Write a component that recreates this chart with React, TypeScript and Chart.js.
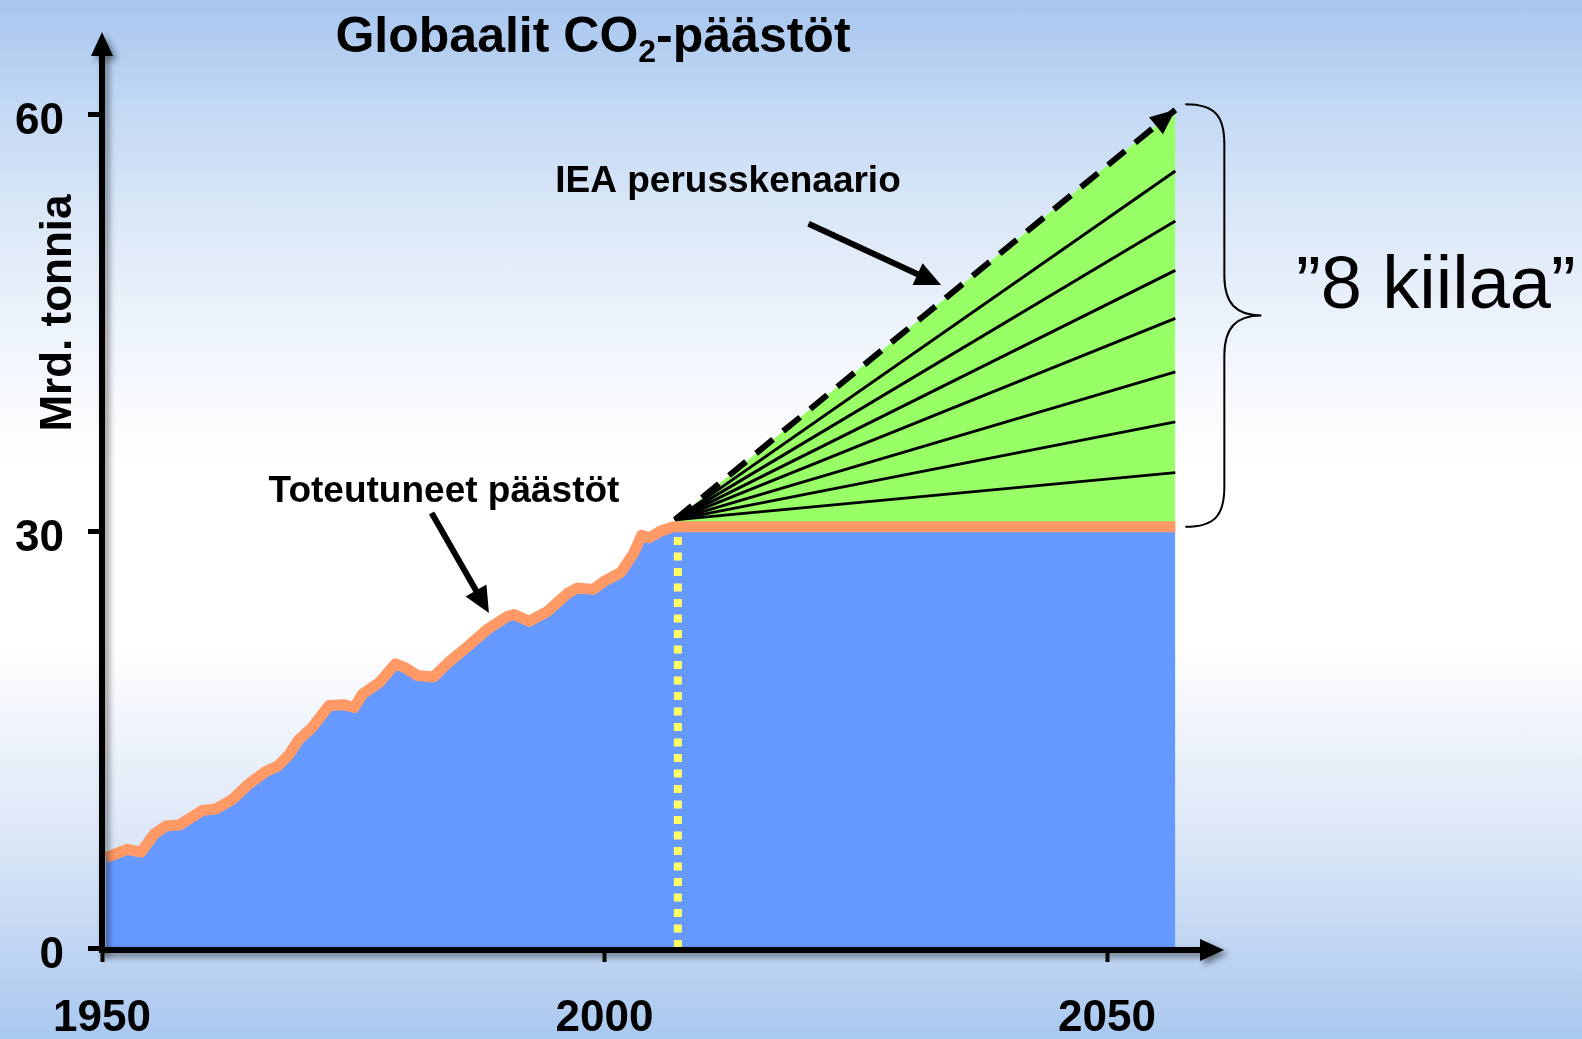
import React, { useEffect, useRef } from "react";
import { Chart, registerables } from "chart.js";

Chart.register(...registerables);

const FONT = "'Liberation Sans', Arial, Helvetica, sans-serif";

// ---- data ----
const historyYears = [
  1950.4, 1952.5, 1953.9, 1955.2, 1956.4, 1957.7, 1960.0, 1961.3, 1963.0, 1964.6,
  1966.3, 1967.5, 1968.6, 1969.6, 1970.9, 1972.6, 1974.1, 1975.1, 1975.9, 1977.6,
  1979.2, 1980.2, 1981.4, 1983.0, 1984.4, 1986.4, 1988.3, 1990.3, 1991.0, 1992.5,
  1994.3, 1996.3, 1997.3, 1998.9, 2000.0, 2001.6, 2002.9, 2003.7, 2004.4, 2005.6,
  2006.9,
];
const historyValues = [
  6.5, 7.1, 6.9, 8.2, 8.8, 8.85, 9.9, 10.0, 10.7, 11.8,
  12.7, 13.1, 13.9, 15.0, 15.85, 17.45, 17.5, 17.3, 18.25, 19.1,
  20.45, 20.15, 19.6, 19.5, 20.5, 21.7, 22.9, 23.85, 24.0, 23.5,
  24.2, 25.5, 25.9, 25.8, 26.4, 27.0, 28.4, 29.7, 29.5, 30.0,
  30.3,
];
const plateauValue = 30.3;
const fanStartYear = 2007.0;
const fanStartValue = 30.8;
const fanEndYear = 2056.8;
const ieaEndValue = 60.3;
const wedgeEndValues = [55.9, 52.3, 48.75, 45.3, 41.45, 37.85, 34.2];
const markerYear = 2007.3;
const markerTop = 29.6;
const xTickValues = [1950, 2000, 2050];
const yTickValues = [0, 30, 60];

// annotation arrow anchors (data coordinates)
const toteArrowTail = { x: 1982.8, y: 31.3 };
const toteArrowTip = { x: 1988.5, y: 24.1 };
const ieaArrowTail = { x: 2020.3, y: 52.1 };
const ieaArrowTip = { x: 2033.5, y: 47.7 };

function drawArrow(ctx: CanvasRenderingContext2D, x1: number, y1: number, x2: number, y2: number, w: number, headLen: number, headW: number) {
  const ang = Math.atan2(y2 - y1, x2 - x1);
  const bx = x2 - headLen * Math.cos(ang);
  const by = y2 - headLen * Math.sin(ang);
  ctx.lineWidth = w;
  ctx.lineCap = "butt";
  ctx.beginPath();
  ctx.moveTo(x1, y1);
  ctx.lineTo(bx + Math.cos(ang) * 2, by + Math.sin(ang) * 2);
  ctx.stroke();
  ctx.beginPath();
  ctx.moveTo(x2, y2);
  ctx.lineTo(bx + (headW / 2) * Math.sin(ang), by - (headW / 2) * Math.cos(ang));
  ctx.lineTo(bx - (headW / 2) * Math.sin(ang), by + (headW / 2) * Math.cos(ang));
  ctx.closePath();
  ctx.fill();
}

const overlayPlugin = {
  id: "overlay",
  afterDatasetsDraw(chart: any) {
    const { ctx, chartArea } = chart;
    const xs = chart.scales.x;
    const ys = chart.scales.y;
    const px = (v: number) => xs.getPixelForValue(v);
    const py = (v: number) => ys.getPixelForValue(v);
    ctx.save();
    ctx.fillStyle = "#000";
    ctx.strokeStyle = "#000";

    // IEA dashed arrowhead
    {
      const x1 = px(fanStartYear), y1 = py(fanStartValue);
      const x2 = px(fanEndYear), y2 = py(ieaEndValue);
      const ang = Math.atan2(y2 - y1, x2 - x1);
      const hl = 25, hw = 22;
      const bx = x2 - hl * Math.cos(ang), by = y2 - hl * Math.sin(ang);
      ctx.beginPath();
      ctx.moveTo(x2, y2);
      ctx.lineTo(bx + (hw / 2) * Math.sin(ang), by - (hw / 2) * Math.cos(ang));
      ctx.lineTo(bx - (hw / 2) * Math.sin(ang), by + (hw / 2) * Math.cos(ang));
      ctx.closePath();
      ctx.fill();
    }

    // axes with soft shadow
    ctx.save();
    ctx.shadowColor = "rgba(0,0,0,0.45)";
    ctx.shadowBlur = 6;
    ctx.shadowOffsetX = 4;
    ctx.shadowOffsetY = 4;
    const ax = chartArea.left;
    const ay = chartArea.bottom + 2;
    ctx.lineWidth = 6;
    ctx.lineCap = "butt";
    ctx.beginPath();
    ctx.moveTo(ax, ay + 3);
    ctx.lineTo(ax, 52);
    ctx.stroke();
    ctx.beginPath();
    ctx.moveTo(ax, 32);
    ctx.lineTo(ax - 11, 56);
    ctx.lineTo(ax + 11, 56);
    ctx.closePath();
    ctx.fill();
    ctx.beginPath();
    ctx.moveTo(ax - 3, ay);
    ctx.lineTo(1204, ay);
    ctx.stroke();
    ctx.beginPath();
    ctx.moveTo(1224, ay);
    ctx.lineTo(1200, ay - 11);
    ctx.lineTo(1200, ay + 11);
    ctx.closePath();
    ctx.fill();
    ctx.restore();

    // annotation arrows
    drawArrow(ctx, px(toteArrowTail.x), py(toteArrowTail.y), px(toteArrowTip.x), py(toteArrowTip.y), 6, 26, 24);
    drawArrow(ctx, px(ieaArrowTail.x), py(ieaArrowTail.y), px(ieaArrowTip.x), py(ieaArrowTip.y), 6, 26, 24);

    // brace
    {
      const L = px(fanEndYear) + 10;
      const M = L + 39;
      const T = L + 76;
      const Yt = py(60.7);
      const Yb = py(30.3);
      const Ym = (Yt + Yb) / 2;
      ctx.lineWidth = 2;
      ctx.beginPath();
      ctx.moveTo(L, Yt);
      ctx.bezierCurveTo(L + 30, Yt, M, Yt + 12, M, Yt + 40);
      ctx.lineTo(M, Ym - 40);
      ctx.bezierCurveTo(M, Ym - 12, M + 12, Ym, T, Ym);
      ctx.moveTo(T, Ym);
      ctx.bezierCurveTo(M + 12, Ym, M, Ym + 12, M, Ym + 40);
      ctx.lineTo(M, Yb - 40);
      ctx.bezierCurveTo(M, Yb - 12, L + 30, Yb, L, Yb);
      ctx.stroke();
    }

    // texts
    ctx.textBaseline = "alphabetic";
    // title
    {
      const a = "Globaalit CO", b = "2", c = "-päästöt";
      const big = `bold 50px ${FONT}`;
      const small = `bold 32px ${FONT}`;
      ctx.font = big;
      const wa = ctx.measureText(a).width;
      const wc = ctx.measureText(c).width;
      ctx.font = small;
      const wb = ctx.measureText(b).width;
      let x0 = 593 - (wa + wb + wc) / 2;
      ctx.textAlign = "left";
      ctx.font = big;
      ctx.fillText(a, x0, 52);
      ctx.font = small;
      ctx.fillText(b, x0 + wa, 62);
      ctx.font = big;
      ctx.fillText(c, x0 + wa + wb, 52);
    }
    ctx.font = `bold 37px ${FONT}`;
    ctx.textAlign = "center";
    ctx.fillText("Toteutuneet päästöt", 444, 502);
    ctx.fillText("IEA perusskenaario", 728, 192);

    ctx.font = `74px ${FONT}`;
    ctx.textAlign = "left";
    ctx.fillText("\u201D8 kiilaa\u201D", 1296, 308);

    ctx.save();
    ctx.translate(59, 313);
    ctx.rotate(-Math.PI / 2);
    ctx.font = `bold 44px ${FONT}`;
    ctx.textAlign = "center";
    ctx.textBaseline = "middle";
    ctx.fillText("Mrd. tonnia", 0, 0);
    ctx.restore();

    ctx.restore();
  },
};

export default function App() {
  const ref = useRef<HTMLCanvasElement | null>(null);

  useEffect(() => {
    if (!ref.current) return;
    const actualPoints = historyYears.map((x, i) => ({ x, y: historyValues[i] }));
    actualPoints.push({ x: fanEndYear, y: plateauValue });
    const fanStart = { x: fanStartYear, y: fanStartValue };

    const datasets: any[] = [
      {
        label: "Toteutuneet päästöt",
        data: actualPoints,
        borderColor: "#FF9966",
        borderWidth: 11,
        borderJoinStyle: "round",
        fill: false,
        order: 1,
      },
      {
        label: "2007",
        data: [{ x: markerYear, y: 0 }, { x: markerYear, y: markerTop }],
        borderColor: "#FFFF66",
        borderWidth: 8,
        borderDash: [8, 7.5],
        fill: false,
        order: 2,
      },
      ...wedgeEndValues.map((v, i) => ({
        label: "kiila " + (i + 1),
        data: [fanStart, { x: fanEndYear, y: v }],
        borderColor: "#000000",
        borderWidth: 3,
        fill: false,
        order: 3,
      })),
      {
        label: "IEA perusskenaario",
        data: [fanStart, { x: fanEndYear, y: ieaEndValue }],
        borderColor: "#000000",
        borderWidth: 6,
        borderDash: [22, 13],
        fill: { value: plateauValue },
        backgroundColor: "#99FF66",
        order: 4,
      },
      {
        label: "area",
        data: actualPoints,
        borderColor: "rgba(0,0,0,0)",
        borderWidth: 0,
        fill: "origin",
        backgroundColor: "#6699FF",
        order: 5,
      },
    ];

    const chart = new Chart(ref.current, {
      type: "line",
      data: { datasets },
      options: {
        animation: false,
        responsive: false,
        devicePixelRatio: 1,
        layout: { autoPadding: false, padding: { top: 58.4, right: 374.5, left: 0, bottom: 0 } },
        elements: { point: { radius: 0, hoverRadius: 0 }, line: { tension: 0 } },
        plugins: { legend: { display: false }, tooltip: { enabled: false }, title: { display: false } },
        events: [],
        scales: {
          x: {
            type: "linear",
            min: 1950,
            max: 2060,
            afterFit: (s: any) => { s.height = 91; },
            afterBuildTicks: (s: any) => { s.ticks = xTickValues.map((v) => ({ value: v })); },
            border: { display: false },
            grid: { drawOnChartArea: false, drawTicks: true, tickLength: 14, tickWidth: 4, tickColor: "#000" },
            ticks: {
              padding: 30,
              color: "#000",
              autoSkip: false,
              maxRotation: 0,
              font: { family: FONT, size: 44, weight: "bold" },
              callback: (v: any) => String(v),
            },
          },
          y: {
            type: "linear",
            min: 0,
            max: 64,
            afterFit: (s: any) => { s.width = 102; },
            afterBuildTicks: (s: any) => { s.ticks = yTickValues.map((v) => ({ value: v })); },
            border: { display: false },
            grid: { drawOnChartArea: false, drawTicks: true, tickLength: 14, tickWidth: 5, tickColor: "#000" },
            ticks: {
              padding: 24,
              labelOffset: 8,
              color: "#000",
              autoSkip: false,
              font: { family: FONT, size: 44, weight: "bold" },
              callback: (v: any) => String(v),
            },
          },
        },
      },
      plugins: [overlayPlugin],
    });
    return () => chart.destroy();
  }, []);

  return (
    <div
      style={{
        position: "fixed",
        left: 0,
        top: 0,
        width: 1582,
        height: 1039,
        background:
          "linear-gradient(180deg, #A8C6EF 0%, #C2D8F4 10%, #DDE9F8 22%, #F3F7FD 35%, #FFFFFF 45%, #FFFFFF 62%, #F0F4FB 70%, #D9E5F7 82%, #BED4F2 92%, #A9C8F0 100%)",
      }}
    >
      <canvas ref={ref} width={1582} height={1039} style={{ display: "block" }} />
    </div>
  );
}
